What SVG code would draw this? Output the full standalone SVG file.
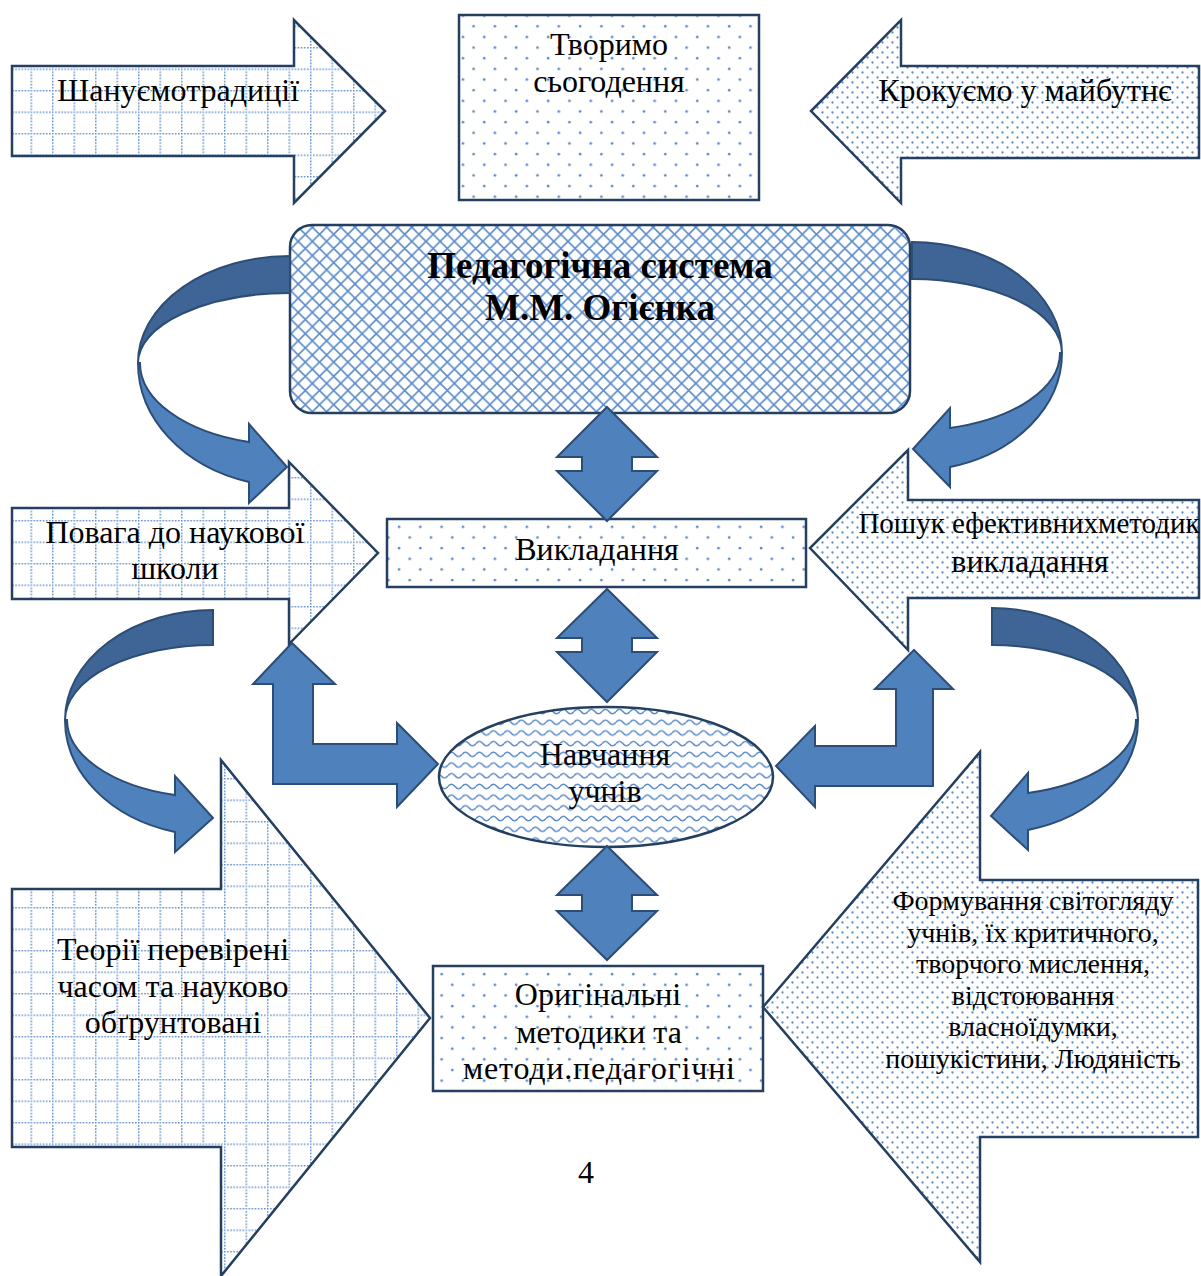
<svg xmlns="http://www.w3.org/2000/svg" width="1201" height="1276" viewBox="0 0 1201 1276">
<defs>
<pattern id="grid" width="21.5" height="21.5" patternUnits="userSpaceOnUse" x="9" y="4">
<path d="M0 0.75H21.5M0.75 0V21.5" stroke="#5b8bc9" stroke-width="1.5" stroke-dasharray="1.5 1.6" fill="none"/>
</pattern>
<pattern id="dots" width="21.3" height="21.3" patternUnits="userSpaceOnUse">
<circle cx="5" cy="5" r="1.3" fill="#5b8bc9"/><circle cx="15.65" cy="15.65" r="1.3" fill="#5b8bc9"/>
</pattern>
<pattern id="fine" width="10" height="10" patternUnits="userSpaceOnUse">
<circle cx="2.5" cy="2.5" r="1.15" fill="#5b8bc9"/><circle cx="7.5" cy="7.5" r="1.15" fill="#5b8bc9"/>
</pattern>
<pattern id="cross" width="14.2" height="14.2" patternUnits="userSpaceOnUse">
<path d="M-1 -1L15.2 15.2M15.2 -1L-1 15.2" stroke="#5b8bc9" stroke-width="1.6" fill="none"/>
</pattern>
<pattern id="wave" width="14" height="10.7" patternUnits="userSpaceOnUse">
<path d="M0 5.35Q3.5 1 7 5.35T14 5.35" stroke="#5b8bc9" stroke-width="1.6" fill="none"/>
</pattern>
</defs>
<style>
.shape{stroke:#243f60;stroke-width:2.5;stroke-linejoin:miter}
.g{fill:url(#grid)}
.d{fill:url(#dots)}
.f{fill:url(#fine)}
.blue{fill:#4f81bd;stroke:#2c4d75;stroke-width:2;stroke-linejoin:miter}
.dark{fill:#3e6596;stroke:#2c4d75;stroke-width:2}
text{font-family:"Liberation Serif","Times New Roman",serif;font-size:32px;fill:#000;text-anchor:middle}
.b{font-weight:bold;font-size:37px}
.s{font-size:28px}
.m{font-size:29px}
</style>
<rect width="1201" height="1276" fill="#fff"/>

<g id="n-traditions">
<polygon class="shape g" points="12,66 294,66 294,20 385,111 294,203 294,156 12,156"/>
<text x="178" y="101">Шануємотрадиції</text>
</g>
<g id="n-today">
<rect class="shape d" x="459" y="15" width="300" height="185"/>
<text x="609" y="55">Творимо</text>
<text x="609" y="92">сьогодення</text>
</g>
<g id="n-future">
<polygon class="shape f" points="1199,66 901,66 901,20 811,111 901,203 901,158 1199,158"/>
<text x="1025" y="101">Крокуємо у майбутнє</text>
</g>
<g id="n-system">
<rect class="shape" fill="url(#cross)" x="290" y="225" width="620" height="188" rx="22"/>
<text class="b" x="600" y="278">Педагогічна система</text>
<text class="b" x="600" y="320">М.М. Огієнка</text>
</g>
<g id="n-respect">
<polygon class="shape g" points="12,508 289,508 289,462 378,553 289,644 289,599 12,599"/>
<text x="175" y="543">Повага до наукової</text>
<text x="175" y="579">школи</text>
</g>
<g id="n-teaching">
<rect class="shape d" x="387" y="519" width="419" height="68"/>
<text x="597" y="560">Викладання</text>
</g>
<g id="n-search">
<polygon class="shape f" points="1199,500 908,500 908,450 810,548 908,650 908,598 1199,598"/>
<text class="m" x="1029" y="533">Пошук ефективнихметодик</text>
<text x="1030" y="572">викладання</text>
</g>
<g id="n-learning">
<ellipse class="shape" fill="url(#wave)" cx="606" cy="777" rx="167" ry="70"/>
<text x="605" y="765">Навчання</text>
<text x="605" y="802">учнів</text>
</g>
<g id="n-theories">
<polygon class="shape g" points="12,889 221,889 221,760 430,1018 221,1276 221,1147 12,1147"/>
<text x="173" y="960">Теорії перевірені</text>
<text x="173" y="997">часом та науково</text>
<text x="173" y="1033">обґрунтовані</text>
</g>
<g id="n-methods">
<rect class="shape d" x="433" y="966" width="330" height="125"/>
<text x="598" y="1005">Оригінальні</text>
<text x="599" y="1043">методики та</text>
<text x="599" y="1079" textLength="272" lengthAdjust="spacing">методи.педагогічні</text>
</g>
<g id="n-worldview">
<polygon class="shape f" points="1198,880 980,880 980,752 763,1007 980,1262 980,1137 1198,1137"/>
<text class="s" x="1033" y="910">Формування світогляду</text>
<text class="s" x="1033" y="942">учнів, їх критичного,</text>
<text class="s" x="1033" y="973">творчого мислення,</text>
<text class="s" x="1033" y="1005">відстоювання</text>
<text class="s" x="1033" y="1036">власноїдумки,</text>
<text class="s" x="1033" y="1068">пошукістини, Людяність</text>
</g>
<text x="586" y="1183">4</text>

<g id="connectors">
<path class="dark" d="M290,256A152,107 0 0 0 138,363A152,70 0 0 1 290,293Z"/>
<path class="blue" d="M138,363A152,123.6 0 0 0 249,482L249,503L287,467L249,424L249,442A150,82 0 0 1 140,363Z"/>
<path class="dark" d="M912,242A150,111 0 0 1 1062,353A150,74 0 0 0 912,279Z"/>
<path class="blue" d="M1062,353A150,118 0 0 1 950,467L950,487L913,449L950,408L950,428A148,77.6 0 0 0 1060,353Z"/>
<path class="dark" d="M213,610A148,110 0 0 0 65,720A148,75 0 0 1 213,645Z"/>
<path class="blue" d="M65,720A148,116 0 0 0 175,832L175,852L213,818L175,776L175,795A146,78 0 0 1 67,720Z"/>
<path class="dark" d="M992,608A146,112 0 0 1 1138,720A146,75 0 0 0 992,645Z"/>
<path class="blue" d="M1138,720A146,113.5 0 0 1 1028,830L1028,850L991,816L1028,773L1028,793A144,75.3 0 0 0 1136,720Z"/>
<polygon class="blue" points="607,407 657,457 632,457 632,471 657,471 607,521 557,471 582,471 582,457 557,457"/>
<polygon class="blue" points="607,589 657,638 632,638 632,652 657,652 607,702 557,652 582,652 582,638 557,638"/>
<polygon class="blue" points="607,846 657,895 632,895 632,911 657,911 607,960 557,911 582,911 582,895 557,895"/>
<polygon class="blue" points="292,643 335,684 313,684 313,744 397,744 397,723 438,764 397,807 397,784 273,784 273,684 253,684"/>
<polygon class="blue" points="914,650 953,689 933,689 933,786 815,786 815,807 776,766 815,726 815,746 896,746 896,689 875,689"/>
</g>
</svg>
